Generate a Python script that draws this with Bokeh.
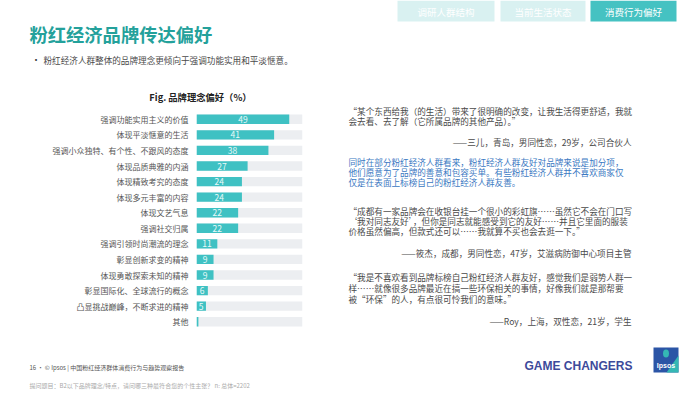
from bokeh.plotting import figure
from bokeh.models import Range1d, FactorRange, Label, ColumnDataSource
from bokeh.layouts import column, row
from bokeh.embed import file_html
from bokeh.resources import INLINE
from bokeh.core.properties import value

CJK = "Noto Sans CJK SC"

# ---------------- data ----------------
categories = [
    "强调功能实用主义的价值",
    "体现平淡惬意的生活",
    "强调小众独特、有个性、不跟风的态度",
    "体现品质典雅的内涵",
    "体现精致考究的态度",
    "体现多元丰富的内容",
    "体现文艺气息",
    "强调社交归属",
    "强调引领时尚潮流的理念",
    "彰显创新求变的精神",
    "体现勇敢探索未知的精神",
    "彰显国际化、全球流行的概念",
    "凸显挑战巅峰，不断求进的精神",
    "其他",
]
values = [49, 41, 38, 27, 24, 24, 22, 22, 11, 9, 9, 6, 5, 1]
value_labels = ["49", "41", "38", "27", "24", "24", "22", "22", "11", "9", "9", "6", "5", ""]
x_max = 56

tabs = ["调研人群结构", "当前生活状态", "消费行为偏好"]
page_title = "粉红经济品牌传达偏好"
bullet_text = "粉红经济人群整体的品牌理念更倾向于强调功能实用和平淡惬意。"
chart_title = "Fig. 品牌理念偏好（%）"

quote1 = ["“某个东西给我（的生活）带来了很明确的改变，让我生活得更舒适，我就",
          "会去看、去了解（它所属品牌的其他产品）。”"]
attr1 = "——三儿，青岛，男同性恋，29岁，公司合伙人"
blue_para = ["同时在部分粉红经济人群看来，粉红经济人群友好对品牌来说是加分项，",
             "他们愿意为了品牌的善意和包容买单。有些粉红经济人群并不喜欢商家仅",
             "仅是在表面上标榜自己的粉红经济人群友善。"]
quote2 = ["“成都有一家品牌会在收银台挂一个很小的彩虹旗……虽然它不会在门口写",
          "‘我对同志友好’，但你是同志就能感受到它的友好……并且它里面的服装",
          "价格虽然偏高，但款式还可以……我就算不买也会去逛一下。”"]
attr2 = "——筱杰，成都，男同性恋，47岁，艾滋病防御中心项目主管"
quote3 = ["“我是不喜欢看到品牌标榜自己粉红经济人群友好，感觉我们是弱势人群一",
          "样……就像很多品牌最近在搞一些环保相关的事情，好像我们就是那帮要",
          "被“环保”的人，有点很可怜我们的意味。”"]
attr3 = "——Roy，上海，双性恋，21岁，学生"

footer1 = "16  •  © Ipsos  |  中国粉红经济群体消费行为与趋势观察报告"
footer2 = "提问题目：B2以下品牌理念/特点，请问哪三种最符合您的个性主张？ n: 总体=2202"
brand = "GAME CHANGERS"
logo_text = "Ipsos"

TEAL = "#3fc1c3"
TITLE_TEAL = "#24a19b"
GREY = "#4a4a4a"


def text_fig(w, h):
    f = figure(width=w, height=h, x_range=Range1d(0, w), y_range=Range1d(h, 0),
               output_backend="svg", toolbar_location=None, min_border=0,
               x_axis_location=None, y_axis_location=None,
               outline_line_color=None, background_fill_color="white",
               border_fill_color="white", frame_align=False)
    f.grid.visible = False
    return f


def lbl(f, x, y, text, size, color, bold=False, align="left", font=CJK, alpha=1.0):
    f.add_layout(Label(x=x, y=y, text=text, text_font_size=size, text_color=color,
                       text_font_style="bold" if bold else "normal", text_align=align,
                       text_baseline="middle", text_font=font, text_alpha=alpha))


# ---------------- header (page y 0..104) ----------------
HDR_H = 104
hdr = text_fig(700, HDR_H)
tab_left = [397, 500, 590]
tab_right = [494, 585, 676]
tab_fill = ["#d9f1f1", "#d9f1f1", "#45c2c2"]
hdr.quad(left=tab_left, right=tab_right, top=[0, 0, 0], bottom=[21, 21, 21],
         fill_color=tab_fill, line_color=None)
for i, t in enumerate(tabs):
    lbl(hdr, (tab_left[i] + tab_right[i]) / 2, 11, t, "9.5px", "white", align="center")
lbl(hdr, 29, 33, page_title, "18.3px", TITLE_TEAL, bold=True)
lbl(hdr, 31, 59, "•", "9px", "#333")
lbl(hdr, 43, 59, bullet_text, "8.6px", GREY)
lbl(hdr, 200, 96, chart_title, "9.3px", "#222", bold=True, align="center")

# ---------------- bar chart (page y 104..340) ----------------
src = ColumnDataSource(dict(
    cat=categories,
    val=values,
    mid=[v / 2 for v in values],
    lab=value_labels,
    full=[x_max] * len(categories),
))
p = figure(width=320, height=236, y_range=FactorRange(*reversed(categories)),
           x_range=Range1d(0, x_max), output_backend="svg", toolbar_location=None,
           min_border_left=196, min_border_right=18, min_border_top=7, min_border_bottom=11,
           x_axis_location=None, outline_line_color=None,
           background_fill_color="white", border_fill_color="white", frame_align=False)
p.hbar(y="cat", right="full", left=0, height=0.6, source=src, fill_color="#eceef1", line_color=None)
p.hbar(y="cat", right="val", left=0, height=0.6, source=src, fill_color=TEAL, line_color=None)
p.text(x="mid", y="cat", text="lab", source=src, text_align="center", text_baseline="middle",
       text_font_size="8.5px", text_color="#e9f9f9", text_font=value(CJK))
p.grid.visible = False
p.yaxis.axis_line_color = None
p.yaxis.major_tick_line_color = None
p.yaxis.major_tick_out = 0
p.yaxis.minor_tick_line_color = None
p.yaxis.major_label_standoff = 8
p.yaxis.major_label_text_font = CJK
p.yaxis.major_label_text_font_size = "8px"
p.yaxis.major_label_text_color = "#555555"

# ---------------- right text (page x 320..700, y 104..340) ----------------
rt = text_fig(380, 236)
OY = HDR_H
QX = 28
RX = 311
QS = "8.6px"
for i, s in enumerate(quote1):
    lbl(rt, QX, 110 - OY + 10 * i, s, QS, GREY)
lbl(rt, RX, 141 - OY, attr1, QS, GREY, align="right")
for i, s in enumerate(blue_para):
    lbl(rt, QX, 161 - OY + 10 * i, s, QS, "#3a78c2")
for i, s in enumerate(quote2):
    lbl(rt, QX, 210 - OY + 10 * i, s, QS, GREY)
lbl(rt, RX, 252 - OY, attr2, QS, GREY, align="right")
for i, s in enumerate(quote3):
    lbl(rt, QX, 276 - OY + 11 * i, s, QS, GREY)
lbl(rt, RX, 320 - OY, attr3, QS, GREY, align="right")

# ---------------- footer (page y 340..393) ----------------
ft = text_fig(700, 53)
lbl(ft, 29, 26.5, footer1, "6px", "#555")
lbl(ft, 29, 45, footer2, "6px", "#aaaaaa")
lbl(ft, 578, 25, brand, "12px", "#3d4a9b", bold=True, align="center", font="Liberation Sans")
ft.quad(left=[653], right=[678], top=[7], bottom=[32], fill_color="#2b55a6", line_color=None)
ft.patch(x=[666, 678, 678, 670], y=[32, 15, 32, 32], fill_color="#35b8b4", line_color=None)
ft.ellipse(x=[665.5], y=[13], width=[6], height=[8], fill_color="#35b8b4", line_color=None)
lbl(ft, 665.5, 25, logo_text, "7px", "white", bold=True, align="center", font="Liberation Sans")

layout = column(hdr, row(p, rt), ft)

open("out.html", "w").write(file_html(layout, INLINE))
